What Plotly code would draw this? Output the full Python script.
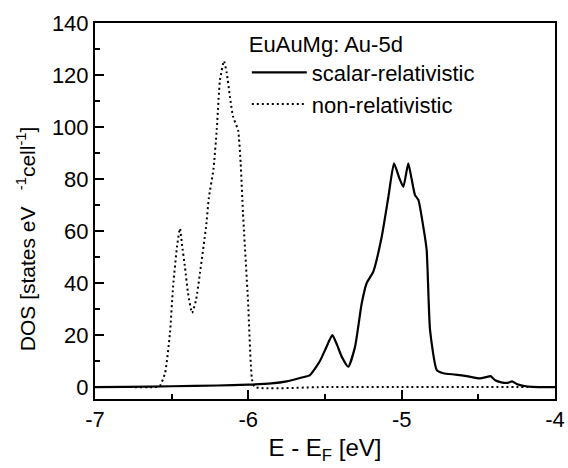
import plotly.graph_objects as go

# scalar-relativistic Au-5d DOS
sr_E = [-7.0, -6.8, -6.5, -6.2, -6.0, -5.85, -5.75, -5.663, -5.598, -5.533, -5.49, -5.452, -5.42,
        -5.391, -5.348, -5.304, -5.261, -5.228, -5.185, -5.13, -5.087, -5.05, -5.015, -4.989,
        -4.957, -4.935, -4.913, -4.891, -4.859, -4.837, -4.815, -4.771, -4.728, -4.65, -4.576,
        -4.489, -4.45, -4.42, -4.39, -4.35, -4.31, -4.28, -4.25, -4.2, -4.15, -4.0]
sr_D = [0.0, 0.1, 0.3, 0.6, 0.9, 1.4, 2.2, 3.5, 4.6, 10.0, 15.5, 20.0, 16.0,
        11.7, 7.8, 15.5, 32.0, 40.0, 44.4, 57.8, 73.0, 86.0, 80.3, 77.0,
        86.0, 80.0, 73.8, 72.0, 61.7, 52.7, 22.0, 6.5, 5.3, 4.8, 4.2,
        3.3, 3.8, 4.2, 2.6, 1.8, 1.6, 2.2, 1.2, 0.4, 0.1, 0.0]

# non-relativistic Au-5d DOS
nr_E = [-7.0, -6.8, -6.6, -6.576, -6.543, -6.511, -6.491, -6.465, -6.446, -6.433, -6.413,
        -6.393, -6.367, -6.341, -6.315, -6.276, -6.257, -6.228, -6.206, -6.185, -6.159,
        -6.141, -6.12, -6.1, -6.067, -6.05, -6.035, -6.002, -5.976, -5.957, -5.5, -5.0, -4.5, -4.0]
nr_D = [0.0, 0.0, 0.0, 0.5, 5.4, 20.8, 38.5, 54.0, 61.0, 55.0, 46.0,
        36.0, 28.5, 33.5, 44.0, 61.5, 73.0, 83.5, 99.0, 118.0, 125.4,
        120.8, 111.7, 104.0, 98.8, 86.0, 67.0, 33.0, 3.0, 0.0, 0.0, 0.0, 0.0, 0.0]

x_major = [-7, -6, -5, -4]
y_major = [0, 20, 40, 60, 80, 100, 120, 140]

FONT = "Liberation Sans, Arial, sans-serif"
X_RANGE = [-7, -4]
Y_RANGE = [-4.6, 140]

fig = go.Figure()
fig.add_trace(go.Scatter(x=sr_E, y=sr_D, mode="lines", name="scalar-relativistic",
                         line=dict(color="black", width=2.2, shape="spline", smoothing=0.5)))
fig.add_trace(go.Scatter(x=nr_E, y=nr_D, mode="lines", name="non-relativistic",
                         line=dict(color="black", width=2, dash="2px,3px", shape="spline", smoothing=0.5)))

fig.add_annotation(
    text="DOS [states eV<sup>    -1</sup>cell<sup>-1</sup>]",
    xref="paper", yref="paper", x=-0.15, y=0.425, xanchor="center", yanchor="middle",
    textangle=-90, showarrow=False, font=dict(family=FONT, size=21, color="black"),
)

fig.update_layout(
    template="none",
    width=568, height=468,
    margin=dict(l=95, r=13, t=23, b=69, autoexpand=False),
    paper_bgcolor="white", plot_bgcolor="white",
    font=dict(family=FONT, size=22, color="black"),
    legend=dict(
        x=0.33, y=1.0, xanchor="left", yanchor="top",
        bgcolor="rgba(0,0,0,0)",
        title=dict(text="EuAuMg: Au-5d", font=dict(size=22)),
        font=dict(size=22),
        tracegroupgap=0, itemwidth=55,
    ),
    xaxis=dict(
        range=X_RANGE, tickmode="array", tickvals=x_major, ticktext=[str(v) for v in x_major],
        showgrid=False, zeroline=False, automargin=False,
        showline=True, linecolor="black", linewidth=2, mirror=True,
        ticks="inside", ticklen=9, tickwidth=2, tickcolor="black",
        minor=dict(ticks="inside", ticklen=5, tickwidth=2, tickcolor="black",
                   tickmode="linear", tick0=-7, dtick=0.5, showgrid=False),
        title=dict(text="E - E<sub>F</sub> [eV]", font=dict(size=24), standoff=8),
        tickfont=dict(size=22),
    ),
    yaxis=dict(
        range=Y_RANGE, tickmode="array", tickvals=y_major, ticktext=[str(v) for v in y_major],
        showgrid=False, zeroline=False, automargin=False,
        showline=True, linecolor="black", linewidth=2, mirror=True,
        ticks="inside", ticklen=9, tickwidth=2, tickcolor="black",
        minor=dict(ticks="inside", ticklen=5, tickwidth=2, tickcolor="black",
                   tickmode="linear", tick0=0, dtick=10, showgrid=False),
        tickfont=dict(size=22),
    ),
)

fig.write_html("out.html")
